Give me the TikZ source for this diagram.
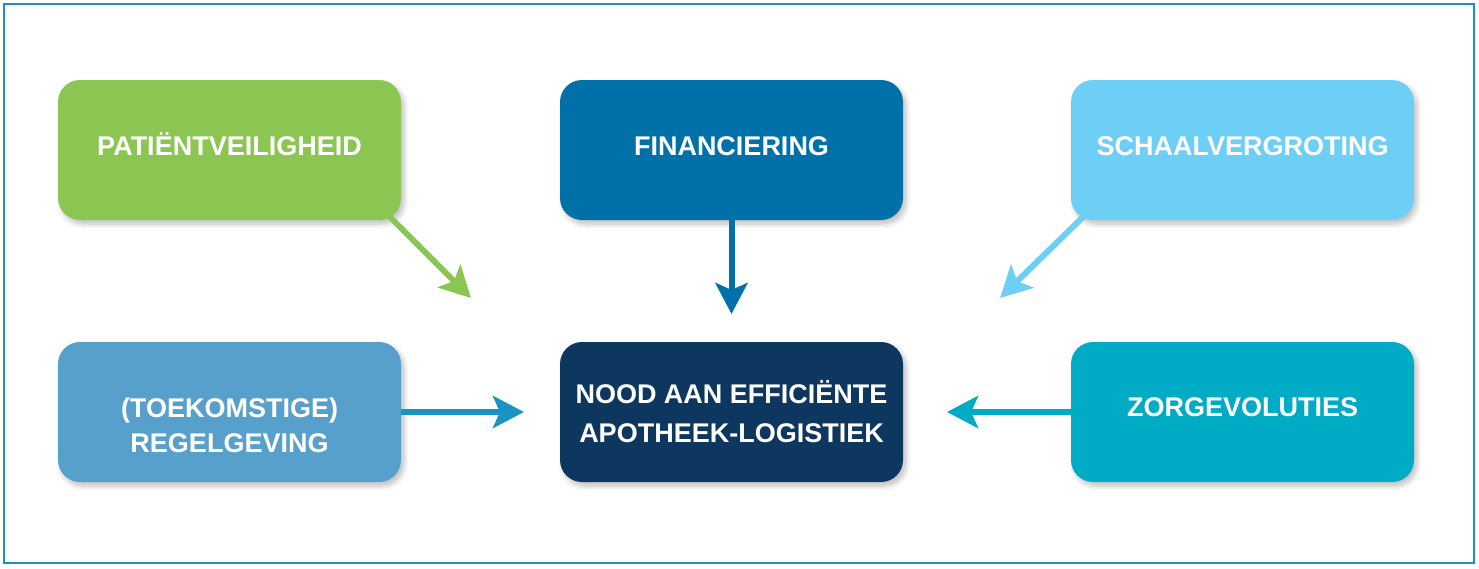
\documentclass[tikz,border=0pt]{standalone}
\usepackage{fontspec}
\setmainfont{Liberation Sans}
\usetikzlibrary{arrows.meta,shadows.blur}
\definecolor{frameblue}{HTML}{1A8FC0}
\definecolor{cgreen}{HTML}{8BC653}
\definecolor{cfin}{HTML}{0071A8}
\definecolor{cschaal}{HTML}{6DCFF6}
\definecolor{creg}{HTML}{58A0CC}
\definecolor{cnood}{HTML}{0E3760}
\definecolor{czorg}{HTML}{00ABC5}
\definecolor{carreg}{HTML}{1B93C2}
\tikzset{
  box/.style={rounded corners=22pt, minimum width=343pt, minimum height=140pt, inner sep=0pt,
    blur shadow={shadow xshift=3pt, shadow yshift=-4pt, shadow blur steps=6, shadow opacity=25, shadow blur radius=5pt}},
  lbl/.style={anchor=base, text=white, font=\fontsize{27}{36}\selectfont\bfseries, inner sep=0pt},
  conn/.style={line width=6pt, -{Stealth[length=31pt,width=32pt,inset=7pt]}}
}
\begin{document}
\begin{tikzpicture}[x=1pt,y=-1pt]
\useasboundingbox (0,0) rectangle (1479,568);
\draw[frameblue, line width=2pt] (4,4) rectangle (1474,563);
\node[box, fill=cgreen] (pat) at (229.5,150) {};
\node[box, fill=cfin] (fin) at (731.5,150) {};
\node[box, fill=cschaal] (sch) at (1242.5,150) {};
\node[box, fill=creg] (reg) at (229.5,412) {};
\node[box, fill=cnood] (nood) at (731.5,412) {};
\node[box, fill=czorg] (zorg) at (1242.5,412) {};
\node[lbl] (patT) at (229.5,155) {PATIËNTVEILIGHEID};
\node[lbl] (finT) at (731.5,155) {FINANCIERING};
\node[lbl] (schT) at (1242.5,155) {SCHAALVERGROTING};
\node[lbl] (regT1) at (229.5,417) {(TOEKOMSTIGE)};
\node[lbl] (regT2) at (229.5,452.5) {REGELGEVING};
\node[lbl] (noodT1) at (731.5,403) {NOOD AAN EFFICIËNTE};
\node[lbl] (noodT2) at (731.5,442) {APOTHEEK-LOGISTIEK};
\node[lbl] (zorgT) at (1242.5,416.5) {ZORGEVOLUTIES};
\coordinate (ps) at (388,215);
\coordinate (pe) at (471,298);
\coordinate (fe) at (731.5,314);
\coordinate (ss) at (1083,217);
\coordinate (se) at (1000,298);
\coordinate (re) at (524,412);
\coordinate (ze) at (947,412);
\draw[conn, cgreen] (ps) -- (pe);
\draw[conn, cfin] (fin.south) -- (fe);
\draw[conn, cschaal] (ss) -- (se);
\draw[conn, carreg] (reg.east) -- (re);
\draw[conn, czorg] (zorg.west) -- (ze);
\end{tikzpicture}
\end{document}
